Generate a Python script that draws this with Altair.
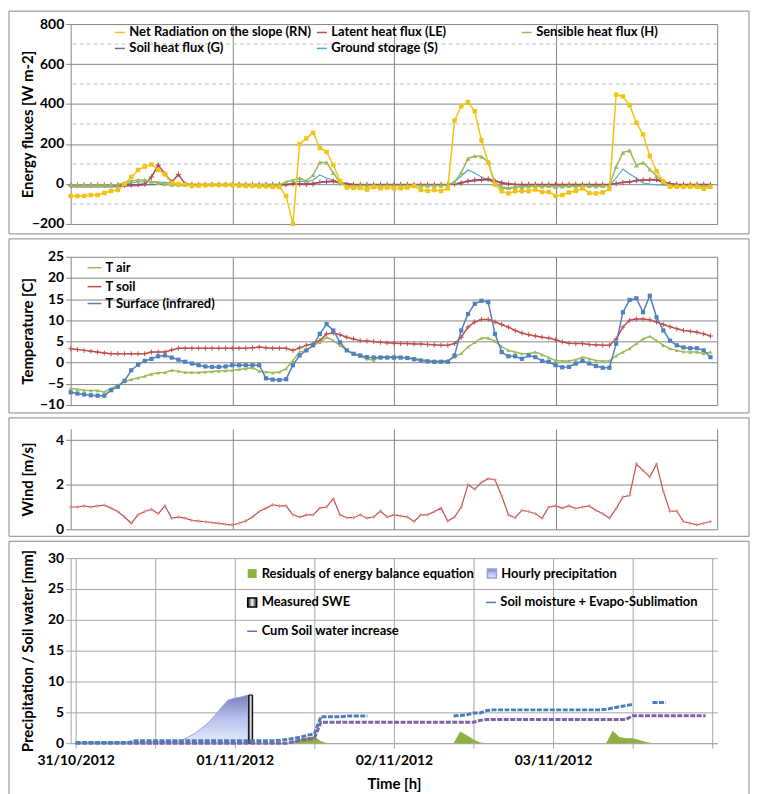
import altair as alt
import pandas as pd

# ---------------- data (hourly, hour 0 = 31/10/2012 00:00) ----------------
DATES = ["31/10/2012", "01/11/2012", "02/11/2012", "03/11/2012"]
DATE_HOURS = [0, 24, 48, 72]

RN = [-59, -60, -60, -55, -55, -45, -35, -30, 0, 35, 70, 87,
      98, 70, 50, 5, 0, -3, -10, -8, -6, -5, -5, -5,
      -5, -8, -10, -10, -12, -12, -15, -15, -60, -200, 200, 228,
      256, 180, 160, 95, 15, -18, -20, -20, -28, -15, -22, -18,
      -22, -22, -18, -10, -30, -35, -30, -35, -22, 317, 389, 410,
      364, 218, 107, -3, -36, -47, -36, -36, -36, -28, -40, -40,
      -60, -55, -42, -35, -22, -45, -47, -42, -25, 447, 438, 394,
      306, 248, 140, 65, 12, -14, -14, -14, -14, -14, -25, -14]
LE = [-5, -5, -5, -5, -5, -5, -5, -5, -5, -5, -3, 0,
      35, 95, 50, 10, 48, 0, -3, -3, -3, -3, -3, -3,
      -3, -3, -3, -3, -3, -3, -3, -3, -3, 0, 0, -2,
      0, 8, 12, 15, 5, -3, -3, -3, -3, -3, -3, -3,
      -3, -3, -3, -3, -3, -3, -3, -3, -3, 0, 5, 15,
      20, 22, 25, 15, 5, 0, -2, -2, -2, -2, -2, -2,
      -2, -2, -2, -2, -2, -2, -2, -2, -2, 3, 8, 10,
      18, 20, 22, 22, 10, 2, -2, -2, -2, -2, -2, -2]
HS = [-5, -5, -5, -5, -5, -5, -5, -3, 5, 15, 20, 20,
      12, 5, 0, -3, -3, -3, -3, -3, -3, -3, -3, -3,
      -3, -3, -3, -3, -3, -3, -3, -3, 10, 20, 30, 15,
      45, 108, 108, 55, 5, -10, -10, -8, -8, -8, -8, -8,
      -8, -8, -8, -8, -8, -8, -8, -8, -5, 10, 57, 127,
      140, 137, 110, 5, -15, -20, -15, -15, -12, -10, -12, -10,
      -15, -12, -10, -12, -8, -10, -12, -10, -8, 87, 157, 168,
      93, 107, 73, 40, 12, -8, -10, -10, -8, -8, -10, -8]
G = [-15, -15, -15, -15, -15, -15, -14, -13, -12, -10, -8, -5,
     -3, -2, -2, -3, -4, -5, -5, -5, -5, -5, -5, -5,
     -5, -5, -5, -5, -5, -5, -5, -5, -4, -2, 0, 2,
     5, 8, 10, 12, 8, 3, -2, -4, -5, -5, -5, -5,
     -5, -5, -5, -5, -5, -5, -5, -5, -4, 0, 8, 12,
     15, 18, 20, 15, 8, 2, -2, -4, -5, -5, -5, -5,
     -5, -5, -5, -5, -5, -5, -5, -5, -4, 2, 8, 12,
     15, 18, 20, 18, 10, 3, -2, -4, -5, -5, -5, -5]
S = [-10, -10, -10, -10, -10, -10, -8, -6, -3, 5, 10, 10,
     12, 10, 8, 3, -3, -3, -3, -3, -3, -3, -3, -3,
     -3, -3, -3, -3, -3, -3, -3, -3, -3, 5, 15, 10,
     20, 45, 30, 20, 5, -10, -8, -8, -8, -8, -8, -8,
     -8, -8, -8, -8, -8, -8, -8, -8, -5, 10, 40, 70,
     55, 35, 20, 5, -20, -25, -15, -10, -10, -10, -10, -10,
     -10, -10, -10, -10, -10, -10, -10, -10, -8, 30, 75, 50,
     30, 5, 0, -5, -5, -10, -10, -10, -10, -10, -10, -10]

T_AIR = [-6.1, -6.3, -6.5, -6.6, -6.6, -6.9, -6.1, -5.3, -4.5, -4.0, -3.6, -3.2,
         -2.7, -2.4, -2.3, -1.8, -2.0, -2.3, -2.3, -2.3, -2.2, -2.1, -2.0, -1.9,
         -1.8, -1.6, -1.4, -1.2, -2.0, -2.2, -2.4, -2.2, -1.4, 0.5, 2.5, 2.9,
         4.1, 4.8, 6.0, 5.2, 4.1, 2.9, 2.1, 1.5, 0.9, 0.5, 1.5, 1.3,
         1.5, 1.3, 1.2, 1.0, 0.7, 0.5, 0.4, 0.4, 0.5, 1.3, 2.2, 3.7,
         4.8, 5.8, 5.8, 5.1, 3.8, 2.9, 2.5, 2.1, 2.1, 2.5, 1.9, 1.2,
         0.5, 0.4, 0.4, 0.7, 1.3, 0.9, 0.5, 0.4, 0.4, 1.6, 2.5, 3.3,
         4.5, 5.6, 6.2, 5.2, 4.1, 3.3, 2.9, 2.6, 2.5, 2.5, 2.1, 2.5]
T_SOIL = [3.3, 3.1, 2.9, 2.7, 2.5, 2.3, 2.1, 2.1, 2.1, 2.1, 2.1, 2.1,
          2.5, 2.5, 2.5, 3.0, 3.4, 3.4, 3.4, 3.4, 3.4, 3.4, 3.4, 3.4,
          3.4, 3.4, 3.4, 3.5, 3.7, 3.5, 3.4, 3.4, 3.4, 2.9, 3.5, 4.1,
          4.4, 5.2, 6.8, 7.0, 6.6, 6.0, 5.6, 5.2, 5.1, 5.0, 4.8, 4.7,
          4.6, 4.5, 4.5, 4.4, 4.4, 4.3, 4.2, 4.1, 4.1, 4.5, 6.0, 8.4,
          9.6, 10.2, 10.2, 9.6, 9.0, 8.4, 7.6, 7.0, 6.6, 6.3, 6.0, 5.8,
          5.4, 4.9, 4.6, 4.5, 4.5, 4.3, 4.2, 4.1, 4.1, 5.6, 8.4, 10.0,
          10.3, 10.3, 10.1, 9.6, 9.0, 8.5, 8.0, 7.6, 7.4, 7.2, 6.8, 6.3]
T_SURF = [-7.0, -7.3, -7.5, -7.7, -7.8, -7.8, -6.5, -5.7, -4.3, -1.8, -0.5, 0.4,
          0.9, 1.5, 1.7, 1.2, 0.7, 0.2, -0.2, -0.6, -0.9, -1.0, -1.0, -0.9,
          -0.6, -0.6, -0.6, -0.6, -0.6, -3.7, -4.0, -4.1, -3.9, -0.6, 1.7, 2.9,
          4.1, 6.8, 9.1, 7.6, 4.8, 2.9, 2.1, 1.7, 1.3, 1.2, 1.2, 1.2,
          1.2, 1.2, 1.1, 0.8, 0.5, 0.3, 0.2, 0.2, 0.2, 1.7, 7.6, 11.5,
          13.9, 14.6, 14.3, 6.8, 2.5, 1.5, 1.5, 0.9, 1.7, 1.3, 0.4, 0.2,
          -0.6, -1.1, -1.0, -0.2, 0.4, -0.2, -0.8, -1.2, -1.2, 4.5, 11.9, 14.8,
          15.2, 11.9, 15.8, 10.7, 7.6, 5.2, 4.1, 3.6, 3.4, 3.4, 2.9, 1.3]

WIND = [1.0, 1.0, 1.05, 1.0, 1.05, 1.08, 0.95, 0.8, 0.55, 0.27, 0.65, 0.8,
        0.9, 0.7, 1.05, 0.5, 0.55, 0.5, 0.4, 0.37, 0.34, 0.3, 0.27, 0.22,
        0.2, 0.27, 0.37, 0.55, 0.8, 0.95, 1.1, 1.05, 1.05, 0.65, 0.55, 0.65,
        0.65, 0.95, 1.0, 1.38, 0.65, 0.52, 0.52, 0.65, 0.5, 0.55, 0.82, 0.55,
        0.65, 0.6, 0.55, 0.35, 0.65, 0.65, 0.8, 0.95, 0.37, 0.55, 1.0, 2.0,
        1.8, 2.1, 2.27, 2.22, 1.5, 0.65, 0.52, 0.85, 0.8, 0.7, 0.5, 1.0,
        1.05, 0.95, 1.05, 0.93, 1.0, 1.05, 0.85, 0.7, 0.5, 0.93, 1.45, 1.52,
        2.93, 2.63, 2.35, 2.93, 1.7, 0.8, 0.82, 0.35, 0.27, 0.2, 0.27, 0.35]

PRECIP = [0.1, 0.1, 0.1, 0.1, 0.1, 0.1, 0.1, 0.1, 0.15, 0.2, 0.2, 0.2,
          0.25, 0.3, 0.3, 0.3, 0.4, 1.0, 1.6, 2.4, 3.3, 4.5, 5.8, 7.0,
          7.3, 7.5, 7.8]
SWE_HOUR = [26.4]
SWE_VALUE = [7.8]
SOIL = [0.1, 0.1, 0.1, 0.1, 0.1, 0.1, 0.1, 0.1, 0.1, 0.4, 0.4, 0.4,
        0.4, 0.4, 0.4, 0.4, 0.4, 0.4, 0.4, 0.4, 0.4, 0.4, 0.4, 0.4,
        0.4, 0.4, 0.4, 0.4, 0.4, 0.4, 0.4, 0.5, 0.6, 0.8, 1.0, 1.3,
        1.5, 4.3, 4.3, 4.3, 4.3, 4.4, 4.4, 4.4, 4.4, None, None, None,
        None, None, None, None, None, None, None, None, None, 4.4, 4.5, 4.6,
        4.9, 4.9, 5.3, 5.4, 5.4, 5.4, 5.4, 5.4, 5.4, 5.4, 5.4, 5.4,
        5.4, 5.4, 5.4, 5.4, 5.4, 5.4, 5.4, 5.4, 5.5, 5.7, 5.9, 6.1,
        6.3, None, None, 6.6, 6.6, 6.6, None, None, None, None, None, None]
CUM = [0, 0, 0, 0, 0, 0, 0, 0, 0, 0, 0, 0,
       0, 0, 0, 0, 0, 0, 0, 0, 0, 0, 0, 0,
       0, 0, 0, 0, 0, 0, 0, 0, 0, 0.3, 0.5, 0.6,
       0.8, 3.4, 3.4, 3.4, 3.4, 3.4, 3.4, 3.4, 3.4, 3.4, 3.4, 3.4,
       3.4, 3.4, 3.4, 3.4, 3.4, 3.4, 3.4, 3.4, 3.4, 3.4, 3.4, 3.4,
       3.4, 3.7, 3.85, 3.85, 3.85, 3.85, 3.85, 3.85, 3.85, 3.85, 3.85, 3.85,
       3.85, 3.85, 3.85, 3.85, 3.85, 3.85, 3.85, 3.85, 3.85, 3.85, 3.85, 3.85,
       4.45, 4.45, 4.45, 4.45, 4.45, 4.45, 4.45, 4.45, 4.45, 4.45, 4.45, 4.45]
RESID = [0, 0, 0, 0, 0, 0, 0, 0, 0, 0.2, 0.2, 0.2,
         0.2, 0.2, 0.1, 0, 0, 0, 0, 0, 0, 0, 0, 0,
         0, 0, 0, 0, 0, 0, 0, 0, 0, 0.4, 0.7, 1.0,
         1.1, 0.3, 0, 0, 0, 0, 0, 0, 0, 0, 0, 0,
         0, 0, 0, 0, 0, 0, 0, 0, 0, 0, 1.9, 1.3,
         0.6, 0.1, 0, 0, 0, 0, 0, 0, 0, 0, 0, 0,
         0, 0, 0, 0, 0, 0, 0, 0, 0, 2.0, 1.0, 0.8,
         0.8, 0.5, 0.2, 0, 0, 0, 0, 0, 0, 0, 0, 0]

MINOR1 = [-100, 100, 300, 500, 700]

# ---------------- styling ----------------
FONT = "Lato"
W = 650
H1, H2, H3, H4 = 201, 149, 101, 186
GRID = "#868686"
GRID4 = "#a6a6a6"
PLUS = "M-1,0L1,0M0,-1L0,1"

XS = alt.Scale(domain=[0, 96], nice=False, zero=False)
X_PLAIN = alt.X("hour:Q", scale=XS,
                axis=alt.Axis(values=[24, 48, 72, 96], labels=False, ticks=False,
                              domain=False, title=None, grid=True, gridColor=GRID))
label_expr = " : ".join(f"datum.value == {h} ? '{d}'" for h, d in zip(DATE_HOURS, DATES)) + " : ''"
X_TIME = alt.X("hour:Q", scale=XS,
               axis=alt.Axis(values=list(range(0, 97, 12)), labelExpr=label_expr,
                             labelFlush=False, labelOverlap=False, labelPadding=5,
                             tickSize=5, grid=True, gridColor=GRID4, domain=True,
                             domainColor=GRID4, tickColor=GRID4, title="Time [h]",
                             titlePadding=10, titleFontSize=15))


def df_of(vals, name):
    rows = []
    seg = 0
    prev = False
    for h, v in enumerate(vals):
        if v is None:
            if prev:
                seg += 1
            prev = False
            continue
        rows.append({"hour": h, "value": v, "series": name, "seg": seg})
        prev = True
    return pd.DataFrame(rows)


def leg(x, y, stype="stroke", size=100):
    return alt.Legend(orient="none", legendX=x, legendY=y, title=None, symbolType=stype,
                      symbolSize=size, labelFont=FONT, labelFontWeight="bold",
                      labelFontSize=13, labelColor="black", labelLimit=400, padding=0,
                      labelOffset=3, symbolStrokeWidth=1.5, symbolOpacity=1)


def cscale(name, color):
    return alt.Scale(domain=[name], range=[color])


def series(vals, name, color, X, Y, legend=None, marker=None, msize=18, mfilled=True,
           sw=1.5, mcolor=None, dash=None):
    df = df_of(vals, name)
    kw = {"strokeWidth": sw}
    if dash:
        kw["strokeDash"] = dash
    enc = dict(x=X, y=Y, detail="seg:N")
    if legend is not None:
        enc["color"] = alt.Color("series:N", scale=cscale(name, color), legend=legend)
        line = alt.Chart(df).mark_line(**kw).encode(**enc)
    else:
        line = alt.Chart(df).mark_line(color=color, **kw).encode(**enc)
    layers = [line]
    if marker:
        pkw = dict(shape=marker, size=msize, filled=mfilled, opacity=1, color=mcolor or color)
        if not mfilled:
            pkw["strokeWidth"] = 1
        layers.append(alt.Chart(df).mark_point(**pkw).encode(x=X, y=Y))
    return layers


def frame(top, bottom, h):
    return alt.Chart(alt.Data(values=[{"f": 1}])).mark_rect(
        fillOpacity=0, stroke=GRID, strokeWidth=1).encode(
        x=alt.value(-62), x2=alt.value(W + 32), y=alt.value(-top), y2=alt.value(h + bottom))


def yaxis(values, title, h, color=GRID):
    return alt.Axis(values=values, title=title, titleX=-43, titleY=h / 2,
                    titleBaseline="middle", titleAlign="center", tickSize=5,
                    labelPadding=2, grid=True, gridColor=color, domainColor=color,
                    tickColor=color)


# ---------------- panel 1: energy fluxes ----------------
Y1 = alt.Y("value:Q", scale=alt.Scale(domain=[-200, 800], nice=False, zero=False),
           axis=yaxis(list(range(-200, 801, 200)), "Energy fluxes [W m-2]", H1))
minor1 = alt.Chart(pd.DataFrame({"value": MINOR1})).mark_rule(
    color="#c0c0c0", strokeDash=[4, 3], strokeWidth=1).encode(y=Y1)
layers1 = [frame(13, 10, H1), minor1]
layers1 += series(G, "Soil heat flux (G)", "#8064a2", X_PLAIN, Y1, leg(43, 18), sw=1.2)
layers1 += series(S, "Ground storage (S)", "#4bacc6", X_PLAIN, Y1, leg(246, 18), sw=1.2)
layers1 += series(LE, "Latent heat flux (LE)", "#b4474f", X_PLAIN, Y1, leg(246, 2),
                  marker=PLUS, msize=30, mfilled=False)
layers1 += series(HS, "Sensible heat flux (H)", "#9bbb59", X_PLAIN, Y1, leg(452, 2),
                  marker="triangle-up", msize=24)
layers1 += series(RN, "Net Radiation on the slope (RN)", "#f2c314", X_PLAIN, Y1, leg(43, 2),
                  marker="square", msize=20)
p1 = alt.layer(*layers1).resolve_scale(color="independent").properties(width=W, height=H1)

# ---------------- panel 2: temperatures ----------------
Y2 = alt.Y("value:Q", scale=alt.Scale(domain=[-10, 25], nice=False, zero=False),
           axis=yaxis(list(range(-10, 26, 5)), "Temperature [C]", H2))
layers2 = [frame(18, 8, H2)]
layers2 += series(T_SOIL, "T soil", "#c0504d", X_PLAIN, Y2, leg(16, 22, size=196),
                  marker=PLUS, msize=25, mfilled=False)
layers2 += series(T_AIR, "T air", "#9bbb59", X_PLAIN, Y2, leg(16, 3, size=196),
                  marker="triangle-up", msize=14)
layers2 += series(T_SURF, "T  Surface (infrared)", "#4f81bd", X_PLAIN, Y2, leg(16, 39, size=196),
                  marker="square", msize=18)
p2 = alt.layer(*layers2).resolve_scale(color="independent").properties(width=W, height=H2)

# ---------------- panel 3: wind ----------------
Y3 = alt.Y("value:Q", scale=alt.Scale(domain=[0, 4.5], nice=False, zero=False),
           axis=yaxis([0, 2, 4], "Wind [m/s]", H3))
layers3 = [frame(11, 7, H3)]
layers3 += series(WIND, "Wind", "#c0504d", X_PLAIN, Y3, marker=PLUS, msize=12,
                  mfilled=False, mcolor="#e29090", sw=1.2)
p3 = alt.layer(*layers3).properties(width=W, height=H3)

# ---------------- panel 4: precipitation / soil water ----------------
Y4 = alt.Y("value:Q", scale=alt.Scale(domain=[0, 30], nice=False, zero=False),
           axis=yaxis(list(range(0, 31, 5)), "Precipitation / Soil water  [mm]", H4, GRID4))
GRAD_V = {"gradient": "linear", "x1": 0, "x2": 0, "y1": 1, "y2": 0,
          "stops": [{"offset": 0, "color": "#e6ecfb"}, {"offset": 0.5, "color": "#b9c3ee"},
                    {"offset": 1, "color": "#7a7ebd"}]}
GRAD_H = {"gradient": "linear", "x1": 0, "x2": 1, "y1": 0, "y2": 0,
          "stops": [{"offset": 0, "color": "#1a1a1a"}, {"offset": 0.5, "color": "#f4f4f4"},
                    {"offset": 1, "color": "#1a1a1a"}]}

resid_name = "Residuals of energy balance equation"
resid = alt.Chart(df_of(RESID, resid_name)).mark_area(opacity=1).encode(
    x=X_TIME, y=Y4,
    color=alt.Color("series:N", scale=cscale(resid_name, "#8db03e"), legend=leg(176, 9, "square", 81)))
precip_name = "Hourly precipitation"
precip = alt.Chart(df_of(PRECIP, precip_name)).mark_area(fill=GRAD_V, strokeWidth=1).encode(
    x=X_TIME, y=Y4,
    stroke=alt.Stroke("series:N", scale=cscale(precip_name, "#9aa0d6"), legend=leg(417, 9, "square", 81)))
swe_df = pd.DataFrame({"hour": SWE_HOUR, "value": SWE_VALUE, "series": ["Measured SWE"]})
swe = alt.Chart(swe_df).mark_bar(fill=GRAD_H, size=4, strokeWidth=1).encode(
    x=X_TIME, y=Y4,
    stroke=alt.Stroke("series:N", scale=cscale("Measured SWE", "#000000"), legend=leg(176, 38, "square", 81)))
layers4 = [frame(17, 53, H4), resid, precip, swe]
layers4 += series(CUM, "Cum Soil water increase", "#7f63a8", X_TIME, Y4, leg(176, 67),
                  sw=3, dash=[5, 1.5])
layers4 += series(SOIL, "Soil moisture + Evapo-Sublimation", "#4a7ebb", X_TIME, Y4, leg(416, 38),
                  sw=3, dash=[5, 1.5])
p4 = alt.layer(*layers4).resolve_scale(color="independent", stroke="independent").properties(
    width=W, height=H4)

chart = alt.vconcat(p1, p2, p3, p4, spacing=3, bounds="full").properties(padding=0).configure(
    font=FONT).configure_view(strokeWidth=0).configure_axis(
    labelFont=FONT, labelFontWeight="bold", labelFontSize=14, labelColor="black",
    titleFont=FONT, titleFontSize=15, titleFontWeight="bold", titleColor="black",
    gridWidth=1)

chart.save("out.html", embed_options={"renderer": "svg", "actions": False})
